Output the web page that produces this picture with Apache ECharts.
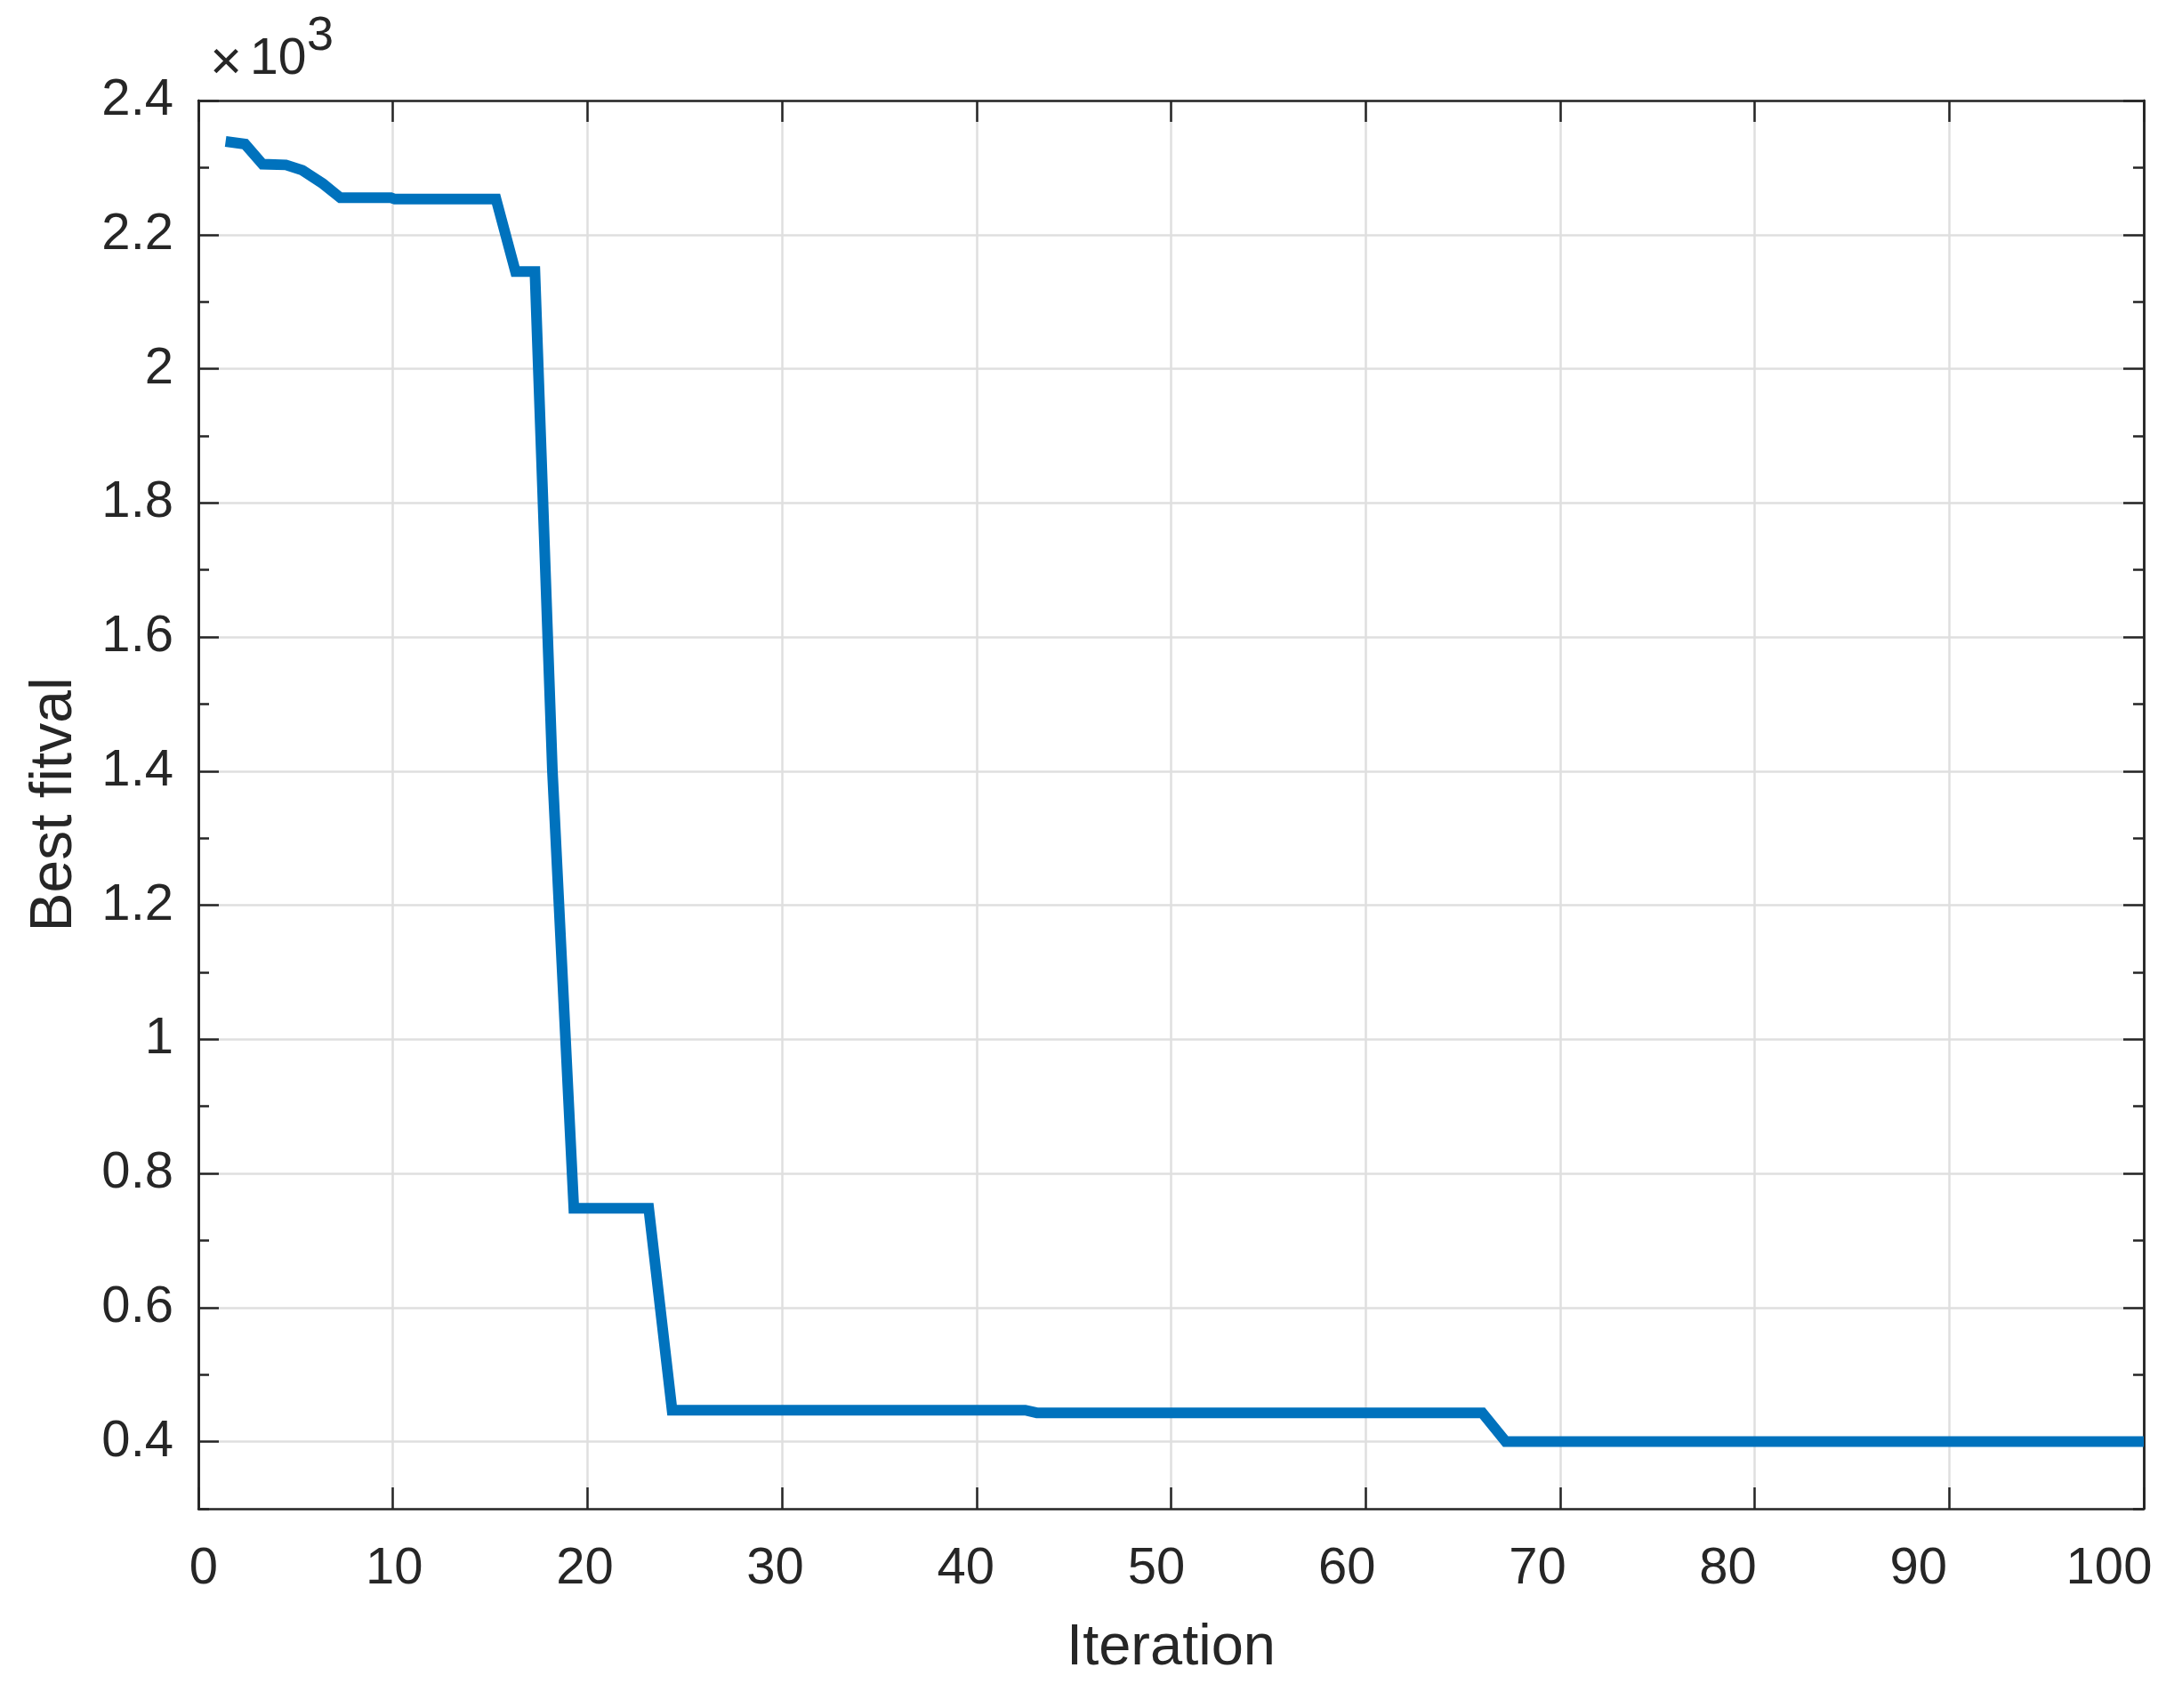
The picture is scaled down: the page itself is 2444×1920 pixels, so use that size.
<!DOCTYPE html>
<html>
<head>
<meta charset="utf-8">
<script src="https://cdn.jsdelivr.net/npm/echarts@6/dist/echarts.min.js"></script>
<style>
html,body{margin:0;padding:0;background:#ffffff;}
#chart{width:2444px;height:1920px;}
</style>
</head>
<body>
<div id="chart"></div>
<script>
// ---- data ----
const iterX      = [1.4, 2.4, 3.3, 4.5, 5.35, 6.4, 7.3, 9.9, 10.1, 15.3, 16.3, 17.3, 18.2, 19.3, 23.15, 24.35, 42.5, 43.1, 66.0, 67.2, 100];
const bestFitval = [2339, 2335, 2305, 2304, 2296, 2276, 2255, 2255, 2253, 2253, 2145, 2145, 1400, 748, 748, 447, 447, 443, 443, 400, 400];

const xTicks      = [0, 10, 20, 30, 40, 50, 60, 70, 80, 90, 100];
const xTickLabels = ['0', '10', '20', '30', '40', '50', '60', '70', '80', '90', '100'];
const yMajorTicks = [400, 600, 800, 1000, 1200, 1400, 1600, 1800, 2000, 2200, 2400];
const yTickLabels = ['0.4', '0.6', '0.8', '1', '1.2', '1.4', '1.6', '1.8', '2', '2.2', '2.4'];
const yMinorTicks = [300, 500, 700, 900, 1100, 1300, 1500, 1700, 1900, 2100, 2300];
const xRange = [0, 100];
const yRange = [300, 2400];
const xTitle = 'Iteration';
const yTitle = 'Best fitval';
const yExponentBase = '10';
const yExponent = '3';

// ---- styling ----
const FONT = '"Liberation Sans", Arial, Helvetica, sans-serif';
const INK = '#262626';
const GRID = '#dfdfdf';
const LINE = '#0072BD';
const AXW = 2.5;

// per-label horizontal nudge of the x tick labels (the reference labels sit on a slightly tighter pitch)
const xRich = {};
xTicks.forEach((v, i) => {
  const s = 6 - 0.45 * v;
  xRich['k' + i] = {
    fontSize: 58, fontFamily: FONT, color: INK, lineHeight: 58,
    padding: s >= 0 ? [0, 0, 0, 2 * s] : [0, -2 * s, 0, 0]
  };
});

function yAxisCfg(position, ticks, len, main) {
  return {
    type: 'value', position: position, min: yRange[0], max: yRange[1],
    axisLine: { show: true, onZero: false, lineStyle: { color: INK, width: AXW } },
    axisTick: { show: true, inside: true, length: len, customValues: ticks, lineStyle: { color: INK, width: AXW } },
    axisLabel: main ? {
      show: true, customValues: yMajorTicks, margin: 28, fontSize: 58, fontFamily: FONT, color: INK,
      lineHeight: 58, padding: [9, 0, 0, 0],
      formatter: v => { const i = yMajorTicks.indexOf(v); return i >= 0 ? yTickLabels[i] : ''; }
    } : { show: false },
    splitLine: main ? { show: true, lineStyle: { color: GRID, width: AXW } } : { show: false },
    name: main ? yTitle : '',
    nameLocation: 'middle', nameGap: 128,
    nameTextStyle: { fontSize: 66, fontFamily: FONT, color: INK, lineHeight: 66 }
  };
}

const option = {
  backgroundColor: '#ffffff',
  animation: false,
  grid: { left: 223, right: 34, top: 113, bottom: 224, containLabel: false, outerBoundsMode: 'none' },
  xAxis: [
    {
      type: 'value', position: 'bottom', min: xRange[0], max: xRange[1], interval: 10,
      axisLine: { show: true, onZero: false, lineStyle: { color: INK, width: AXW } },
      axisTick: { show: true, inside: true, length: 24, lineStyle: { color: INK, width: AXW } },
      axisLabel: {
        show: true, margin: 39, rich: xRich,
        formatter: v => { const i = xTicks.indexOf(v); return i >= 0 ? '{k' + i + '|' + xTickLabels[i] + '}' : ''; }
      },
      splitLine: { show: true, lineStyle: { color: GRID, width: AXW } },
      name: xTitle, nameLocation: 'middle', nameGap: 125,
      nameTextStyle: { fontSize: 65, fontFamily: FONT, color: INK, lineHeight: 64 }
    },
    {
      type: 'value', position: 'top', min: xRange[0], max: xRange[1], interval: 10,
      axisLine: { show: true, onZero: false, lineStyle: { color: INK, width: AXW } },
      axisTick: { show: true, inside: true, length: 24, lineStyle: { color: INK, width: AXW } },
      axisLabel: { show: false },
      splitLine: { show: false }
    }
  ],
  yAxis: [
    yAxisCfg('left', yMajorTicks, 23, true),
    yAxisCfg('left', yMinorTicks, 12, false),
    yAxisCfg('right', yMajorTicks, 23, false),
    yAxisCfg('right', yMinorTicks, 12, false)
  ],
  series: [{
    type: 'line', xAxisIndex: 0, yAxisIndex: 0,
    data: iterX.map((x, i) => [x, bestFitval[i]]),
    showSymbol: false, symbol: 'none', silent: true, clip: true,
    lineStyle: { color: LINE, width: 12, join: 'miter', cap: 'butt' }
  }],
  graphic: [
    { type: 'text', x: 236, y: 72, style: { text: '×', fontSize: 62, fontFamily: FONT, fill: INK, align: 'left', verticalAlign: 'middle', textAlign: 'left', textVerticalAlign: 'middle' } },
    { type: 'text', x: 281, y: 67, style: { text: yExponentBase, fontSize: 57, fontFamily: FONT, fill: INK, align: 'left', verticalAlign: 'middle', textAlign: 'left', textVerticalAlign: 'middle' } },
    { type: 'text', x: 345, y: 41, style: { text: yExponent, fontSize: 54, fontFamily: FONT, fill: INK, align: 'left', verticalAlign: 'middle', textAlign: 'left', textVerticalAlign: 'middle' } }
  ]
};

const chart = echarts.init(document.getElementById('chart'), null, { renderer: 'canvas', width: 2444, height: 1920 });
chart.setOption(option);
</script>
</body>
</html>
